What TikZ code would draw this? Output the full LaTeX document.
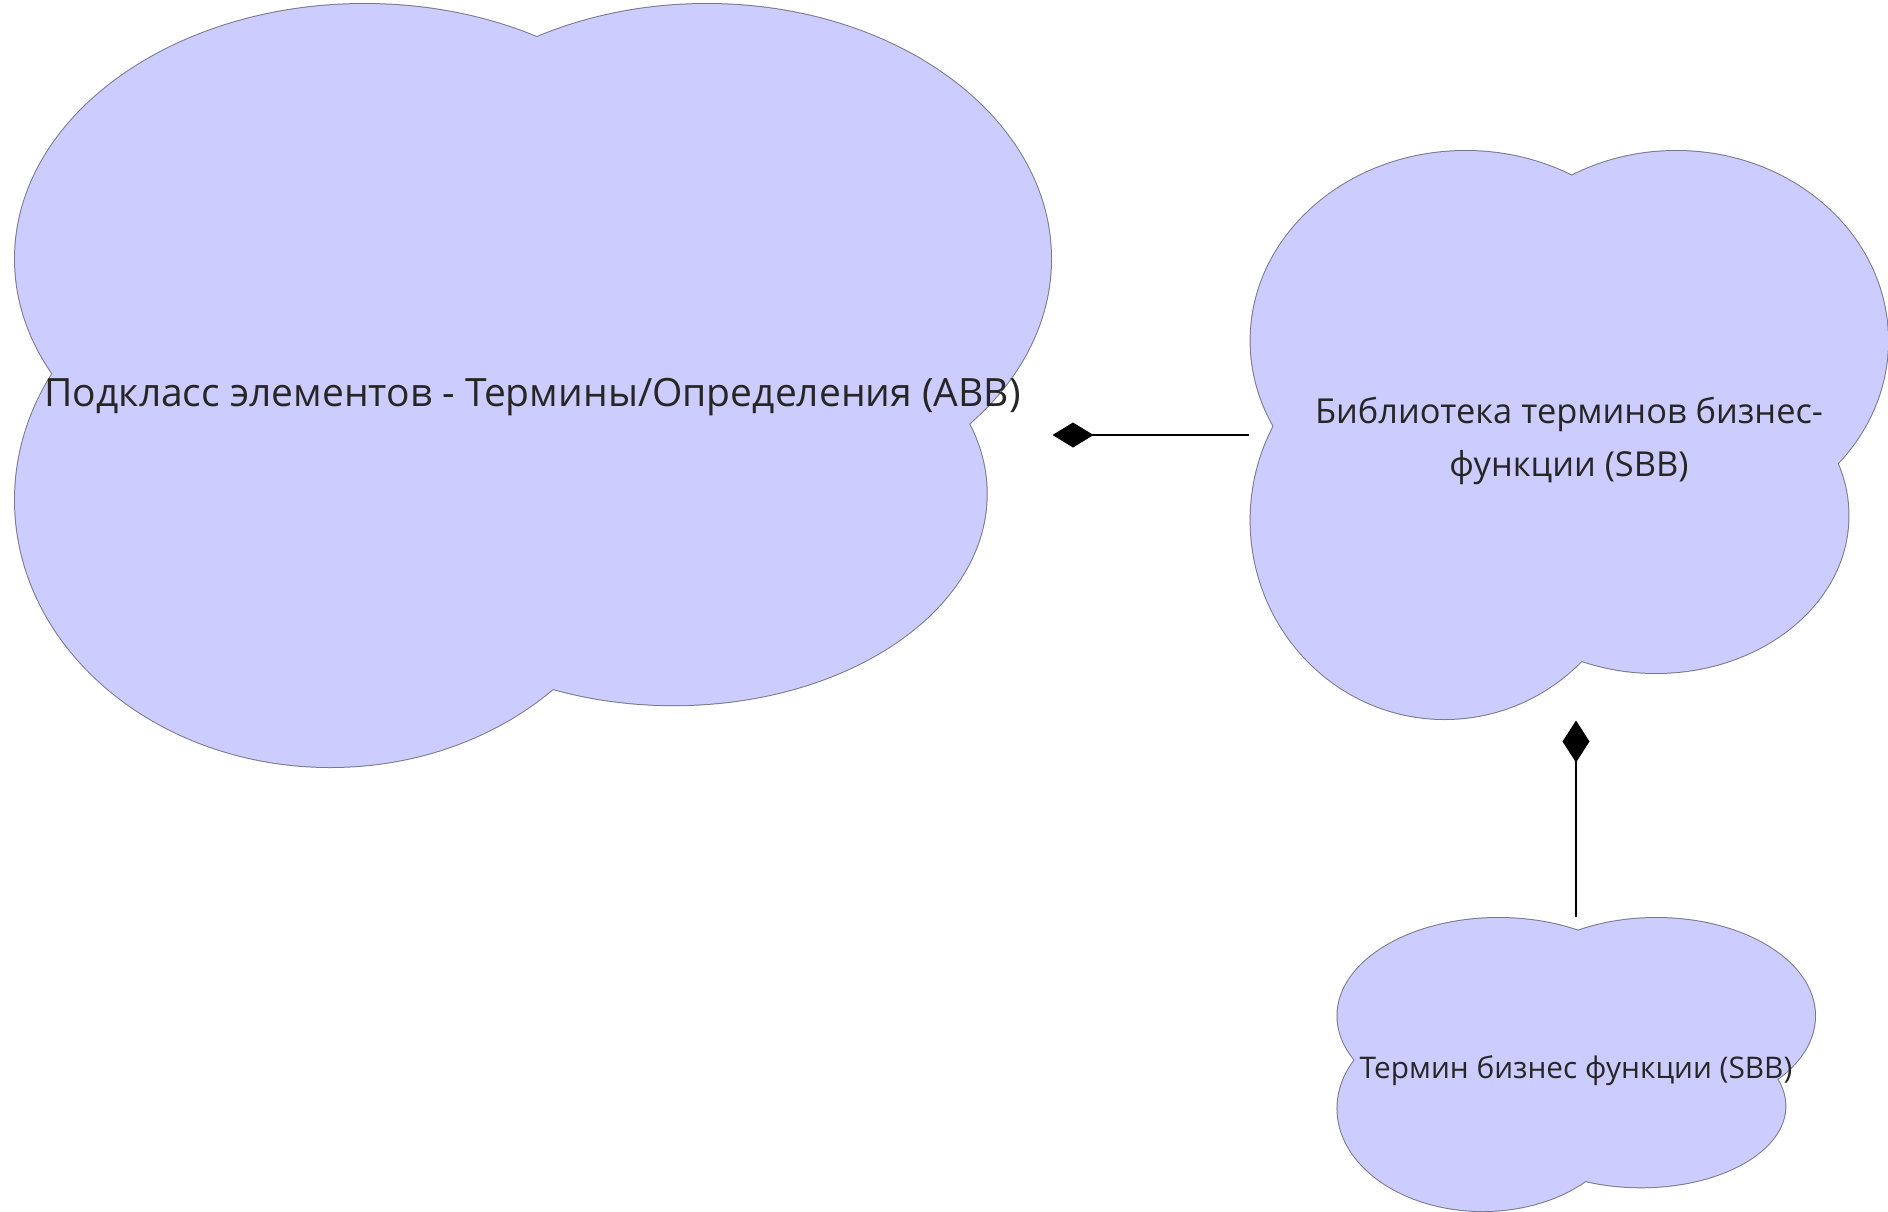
\documentclass[tikz,border=0pt]{standalone}
\usepackage{fontspec}
\setmainfont{Open Sans}
\usetikzlibrary{arrows.meta}
\usetikzlibrary{backgrounds}
\definecolor{cloudfill}{RGB}{204,204,255}
\definecolor{cloudline}{RGB}{120,120,140}

% lobes of a cloud: centre and radii, in parts of its bounding box
\newcommand{\lobes}{0.338/0.334/0.337/0.334, 0.668/0.334/0.332/0.334,
  0.305/0.650/0.304/0.350, 0.636/0.642/0.302/0.277}

% cloud under node #1, which is #2 wide and #3 high
\newcommand{\cloudunder}[3]{%
  \begin{scope}[shift={(#1.north west)}, shift={(1.5,1.5)}, x=#2pt, y=-#3pt]
    \foreach \u/\v/\a/\b in \lobes
      \draw[lobe] (\u,\v) ellipse [x radius={\a*#2pt}, y radius={\b*#3pt}];
    \foreach \u/\v/\a/\b in \lobes
      \fill[cloudfill] (\u,\v) ellipse [x radius={\a*#2pt}, y radius={\b*#3pt}];
  \end{scope}}

\tikzset{
  lobe/.style={draw=cloudline, line width=2pt, fill=cloudfill},
  cloudnode/.style 2 args={minimum width=#1pt+3pt, minimum height=#2pt+3pt, inner sep=0pt, outer sep=0pt},
  cloudtext/.style={text=black!85, align=center, inner sep=0pt},
  link/.style={black, line width=2pt},
}

\begin{document}
\begin{tikzpicture}[x=1pt, y=-1pt]
  \useasboundingbox (0,0) rectangle (1888,1211);

  % the three clouds
  \node[cloudnode={1037}{763},
    label={[cloudtext, font=\fontsize{39}{47}\selectfont, yshift=-12pt]center:Подкласс элементов - Термины/Определения (ABB)}]
    (abb) at (532.5,385.5) {};
  \node[cloudnode={638}{568},
    label={[cloudtext, font=\fontsize{34.4}{53}\selectfont, yshift=-6pt]center:{Библиотека терминов бизнес-\\функции (SBB)}}]
    (lib) at (1569,435) {};
  \node[cloudnode={478}{293},
    label={[cloudtext, font=\fontsize{29.8}{36}\selectfont, yshift=-6pt]center:Термин бизнес функции (SBB)}]
    (term) at (1576,1064.5) {};

  \begin{scope}[on background layer]
    \cloudunder{abb}{1037}{763}
    \cloudunder{lib}{638}{568}
    \cloudunder{term}{478}{293}
  \end{scope}

  % composition links
  \draw[link, -{Diamond[length=41pt, width=25pt]}] (lib.west) -- (lib.west -| abb.east);
  \draw[link, -{Diamond[length=42pt, width=27pt]}] (term.north) -- (term.north |- lib.south);
\end{tikzpicture}
\end{document}
